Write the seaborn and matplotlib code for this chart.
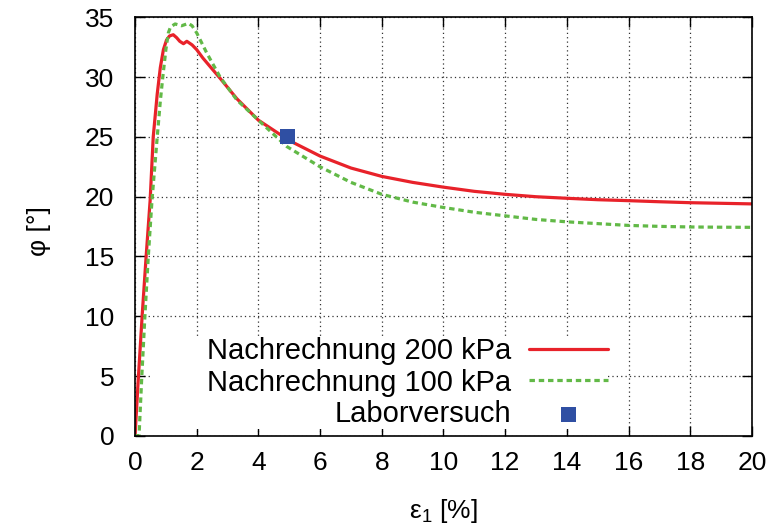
import matplotlib
matplotlib.use("Agg")
import matplotlib.pyplot as plt
from matplotlib.patches import Rectangle
import seaborn as sns
import pandas as pd
from matplotlib import font_manager

# Simulated friction angle curves (strain in %, angle in degrees)
eps_200 = [0, 0.1, 0.23, 0.36, 0.49, 0.59, 0.72, 0.82, 0.92, 1.02, 1.12, 1.24, 1.35, 1.45,
           1.57, 1.68, 1.85, 2.0, 2.2, 2.43, 2.76, 3.3, 4.0, 5.0, 6.0, 7.0, 8.0, 9.0,
           10, 11, 12, 13, 14, 15, 16, 17, 18, 19, 20]
phi_200 = [0, 4.5, 10, 15, 19.7, 25, 28.6, 30.8, 32.3, 33.1, 33.45, 33.55, 33.3, 33.0,
           32.8, 33.0, 32.7, 32.3, 31.6, 30.9, 29.9, 28.2, 26.4, 24.7, 23.4, 22.4, 21.7, 21.2,
           20.8, 20.45, 20.2, 20.0, 19.87, 19.75, 19.67, 19.58, 19.5, 19.45, 19.4]

eps_100 = [0, 0.13, 0.22, 0.32, 0.43, 0.55, 0.72, 0.82, 0.9, 1.0, 1.08, 1.15, 1.3, 1.51,
           1.73, 1.85, 2.0, 2.33, 2.76, 3.3, 4.0, 4.92, 6.0, 7.0, 8, 9, 10, 11, 12,
           13, 14, 15, 16, 17, 18, 19, 20]
phi_100 = [0, 0, 5, 10, 15, 19.7, 25, 28.0, 30.0, 32.3, 33.7, 34.2, 34.45, 34.3,
           34.5, 34.3, 33.7, 32.0, 30.0, 28.1, 26.4, 24.2, 22.5, 21.2, 20.2, 19.55, 19.1, 18.7, 18.4,
           18.1, 17.9, 17.75, 17.6, 17.52, 17.47, 17.45, 17.44]

# Laboratory test result
eps_lab = [4.95]
phi_lab = [25.0]

x_ticks = [0, 2, 4, 6, 8, 10, 12, 14, 16, 18, 20]
y_ticks = [0, 5, 10, 15, 20, 25, 30, 35]

sns.set_theme(style="ticks")
installed = {f.name for f in font_manager.fontManager.ttflist}
base_font = "Liberation Sans" if "Liberation Sans" in installed else "DejaVu Sans"
plt.rcParams["font.family"] = [base_font, "DejaVu Sans"]
plt.rcParams["mathtext.fontset"] = "custom"
plt.rcParams["mathtext.rm"] = base_font
plt.rcParams["mathtext.it"] = base_font
plt.rcParams["text.color"] = "black"
plt.rcParams["axes.labelcolor"] = "black"

fig = plt.figure(figsize=(7.76, 5.27), dpi=100)
ax = fig.add_axes([0.174, 0.173, 0.795, 0.794])
ax.set_axisbelow(True)

df200 = pd.DataFrame({"eps": eps_200, "phi": phi_200})
df100 = pd.DataFrame({"eps": eps_100, "phi": phi_100})
dflab = pd.DataFrame({"eps": eps_lab, "phi": phi_lab})

sns.lineplot(data=df200, x="eps", y="phi", sort=False, ax=ax, color="#e8222a",
             lw=2.3, label="Nachrechnung 200 kPa", zorder=3)
sns.lineplot(data=df100, x="eps", y="phi", sort=False, ax=ax, color="#62b947",
             lw=2.3, label="Nachrechnung 100 kPa", zorder=3)
ax.lines[-1].set_linestyle((0, (1.7, 1.2)))
sns.scatterplot(data=dflab, x="eps", y="phi", ax=ax, color="#2f4fa3", marker="s",
                s=118, edgecolor="none", label="Laborversuch", zorder=4)

ax.set_xlim(0, 20)
ax.set_ylim(0, 35)
ax.set_xticks(x_ticks)
ax.set_yticks(y_ticks)
ax.set_xticklabels([str(t) for t in x_ticks])
ax.set_yticklabels([str(t) for t in y_ticks])
ax.grid(True, color="#333333", linestyle=(0, (1, 2.5)), lw=0.9)
ax.tick_params(direction="in", length=7, width=1, top=True, right=True,
               labelsize=19, colors="black")
ax.tick_params(axis="x", pad=11)
ax.tick_params(axis="y", pad=15)
for s in ax.spines.values():
    s.set_color("black")
    s.set_linewidth(1.2)
    s.set_zorder(5)

ax.set_xlabel(r"ε$_1$ [%]", fontsize=19, color="black")
ax.xaxis.set_label_coords(0.5, -0.18)
ax.xaxis.label.set_va("center")
ax.set_ylabel("φ [°]", fontsize=19, color="black")
ax.yaxis.set_label_coords(-0.156, 0.49)
ax.yaxis.label.set_va("center")

# white key area that hides the grid behind the legend
ax.add_patch(Rectangle((0.029, 0.017), 0.736, 0.217, transform=ax.transAxes,
                       facecolor="white", edgecolor="none", zorder=1))

leg = ax.legend(loc="center right", bbox_to_anchor=(0.767, 0.127), markerfirst=False,
                fontsize=21, frameon=False, handlelength=2.7, handletextpad=0.62,
                labelspacing=0.12, borderpad=0.0, borderaxespad=0.0)
for t in leg.get_texts():
    t.set_color("black")

fig.savefig("out.png", dpi=100)
